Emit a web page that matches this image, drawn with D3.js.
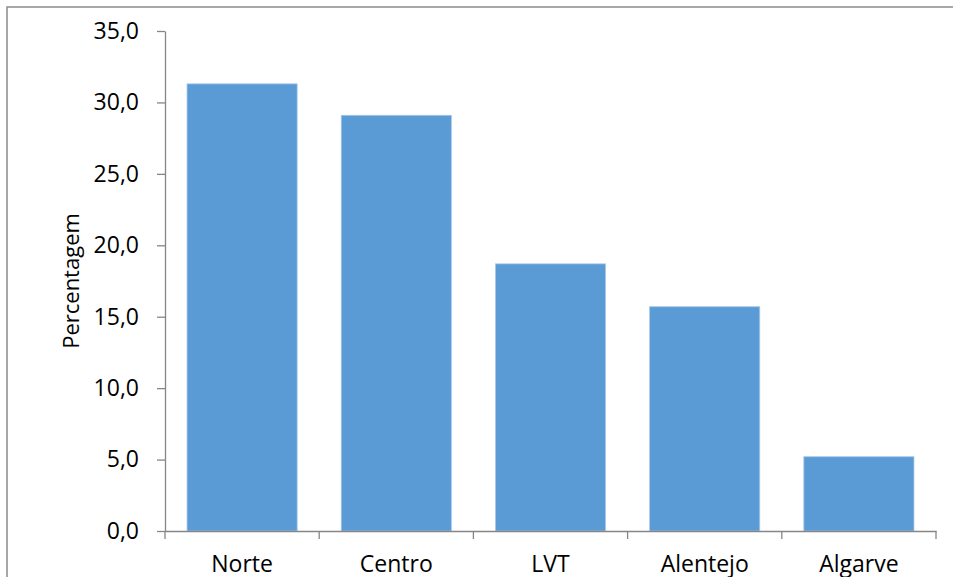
<!DOCTYPE html>
<html>
<head>
<meta charset="utf-8">
<script src="https://cdn.jsdelivr.net/npm/d3@7"></script>
<style>
  html, body { margin: 0; padding: 0; background: #fff; }
  svg { display: block; }
  text { font-family: "Open Sans", "Noto Sans", sans-serif; fill: #000; }
</style>
</head>
<body>
<svg id="chart" width="953" height="577"></svg>
<script>
const categories = ["Norte", "Centro", "LVT", "Alentejo", "Algarve"];
const values = [31.3, 29.1, 18.7, 15.7, 5.2];
const yTicks = [0, 5, 10, 15, 20, 25, 30, 35];
const yTitle = "Percentagem";

const svg = d3.select("#chart");
const W = 953, H = 577;
const plot = { left: 165, right: 936, top: 31, bottom: 531 };

// outer chart border
svg.append("rect")
  .attr("x", 7).attr("y", 7)
  .attr("width", W + 10).attr("height", H + 10)
  .attr("fill", "#fff")
  .attr("stroke", "#8c8c8c")
  .attr("stroke-width", 1.5);

const x = d3.scaleBand()
  .domain(categories)
  .range([plot.left, plot.right])
  .paddingInner(2 / 7)
  .paddingOuter(1 / 7);

const y = d3.scaleLinear()
  .domain([0, 35])
  .range([plot.bottom, plot.top]);

const fmt = d => d.toFixed(1).replace(".", ",");

// bars
svg.append("g").selectAll("rect")
  .data(categories.map((c, i) => ({ c, v: values[i] })))
  .join("rect")
  .attr("x", d => x(d.c))
  .attr("y", d => y(d.v))
  .attr("width", x.bandwidth())
  .attr("height", d => y(0) - y(d.v))
  .attr("fill", "#5B9BD5")
  .attr("stroke", "#a9c9e9")
  .attr("stroke-width", 0.8);

// y axis
const yAxis = svg.append("g")
  .attr("transform", `translate(${plot.left},0)`)
  .call(d3.axisLeft(y).tickValues(yTicks).tickFormat(fmt).tickSizeInner(8).tickSizeOuter(0).tickPadding(18));
yAxis.select(".domain").attr("stroke", "#868686").attr("stroke-width", 1.3);
yAxis.selectAll(".tick line").attr("stroke", "#868686").attr("stroke-width", 1.3);
yAxis.selectAll(".tick text")
  .attr("font-family", "'Open Sans', 'Noto Sans', sans-serif")
  .attr("font-size", 23)
  .attr("fill", "#000");

// x axis
const xAxis = svg.append("g")
  .attr("transform", `translate(0,${plot.bottom})`)
  .call(d3.axisBottom(x).tickSize(0).tickPadding(25));
xAxis.select(".domain").attr("stroke", "#868686").attr("stroke-width", 1.3);
xAxis.selectAll(".tick text")
  .attr("font-family", "'Open Sans', 'Noto Sans', sans-serif")
  .attr("font-size", 23)
  .attr("fill", "#000");

// category separator ticks (at band boundaries)
const boundaries = categories.map(c => x(c) - x.step() * x.paddingInner() / 2)
  .concat([plot.right]);
xAxis.append("g").selectAll("line")
  .data(boundaries)
  .join("line")
  .attr("x1", d => d).attr("x2", d => d)
  .attr("y1", 0).attr("y2", 8)
  .attr("stroke", "#868686")
  .attr("stroke-width", 1.3);

// y axis title
svg.append("text")
  .attr("transform", `translate(79,${(plot.top + plot.bottom) / 2}) rotate(-90)`)
  .attr("text-anchor", "middle")
  .attr("font-size", 22)
  .text(yTitle);
</script>
</body>
</html>
